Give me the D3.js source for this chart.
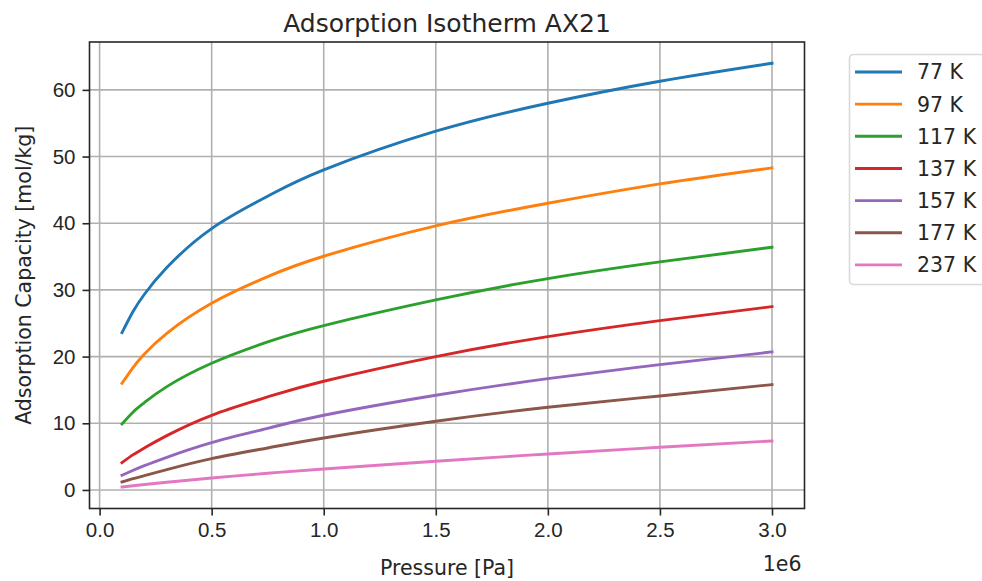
<!DOCTYPE html>
<html>
<head>
<meta charset="utf-8">
<script src="https://cdnjs.cloudflare.com/ajax/libs/d3/7.8.4/d3.min.js"></script>
<style>
  body { margin: 0; background: #fff; }
  svg { display: block; font-family: "DejaVu Sans", sans-serif; }
  .tick text { fill: #262626; }
</style>
</head>
<body>
<div id="chart"></div>
<script>
// pressure points (Pa)
const pressure = [0.1e6, 0.15e6, 0.2e6, 0.3e6, 0.5e6, 0.75e6, 1.0e6, 1.5e6, 2.0e6, 2.5e6, 3.0e6];

// adsorption capacity (mol/kg) per temperature
const q77  = [23.6, 26.8, 29.35, 33.35, 39.2, 44.05, 48.0, 53.8, 58.0, 61.3, 64.0];
const q97  = [16.0, 18.4, 20.4, 23.5, 28.0, 32.0, 35.05, 39.6, 43.0, 45.9, 48.3];
const q117 = [9.9, 11.7, 13.1, 15.5, 19.0, 22.2, 24.65, 28.5, 31.7, 34.2, 36.4];
const q137 = [4.1, 5.3, 6.3, 8.15, 11.2, 13.95, 16.3, 20.0, 23.0, 25.4, 27.5];
const q157 = [2.2, 2.95, 3.65, 4.9, 7.1, 9.25, 11.2, 14.2, 16.7, 18.8, 20.7];
const q177 = [1.2, 1.7, 2.15, 3.05, 4.7, 6.3, 7.8, 10.3, 12.4, 14.1, 15.8];
const q237 = [0.45, 0.63, 0.82, 1.16, 1.8, 2.5, 3.15, 4.3, 5.4, 6.4, 7.35];

const labels = ["77 K", "97 K", "117 K", "137 K", "157 K", "177 K", "237 K"];
const seriesValues = [q77, q97, q117, q137, q157, q177, q237];
const colors = ["#1f77b4", "#ff7f0e", "#2ca02c", "#d62728", "#9467bd", "#8c564b", "#e377c2"];

const xTicks = [0, 0.5e6, 1.0e6, 1.5e6, 2.0e6, 2.5e6, 3.0e6];
const yTicks = [0, 10, 20, 30, 40, 50, 60];

const W = 982, H = 581;
const plot = {left: 89.5, right: 804.5, top: 42, bottom: 508.5};

const svg = d3.select("#chart").append("svg")
  .attr("width", W)
  .attr("height", H);

const x = d3.scaleLinear().domain([-0.045e6, 3.145e6]).range([plot.left, plot.right]);
const y = d3.scaleLinear().domain([-2.78, 67.18]).range([plot.bottom, plot.top]);

// grid
svg.append("g").selectAll("line").data(xTicks).join("line")
  .attr("x1", d => x(d)).attr("x2", d => x(d))
  .attr("y1", plot.top).attr("y2", plot.bottom)
  .attr("stroke", "#b0b0b0").attr("stroke-width", 1.6);
svg.append("g").selectAll("line").data(yTicks).join("line")
  .attr("x1", plot.left).attr("x2", plot.right)
  .attr("y1", d => y(d)).attr("y2", d => y(d))
  .attr("stroke", "#b0b0b0").attr("stroke-width", 1.6);

// curves
const line = d3.line()
  .x((d, i) => x(pressure[i]))
  .y(d => y(d))
  .curve(d3.curveNatural);

svg.append("g").selectAll("path").data(seriesValues).join("path")
  .attr("d", d => line(d))
  .attr("fill", "none")
  .attr("stroke", (d, i) => colors[i])
  .attr("stroke-width", 2.9)
  .attr("stroke-linecap", "square");

// axes
const xAxis = svg.append("g")
  .attr("transform", `translate(0,${plot.bottom})`)
  .call(d3.axisBottom(x).tickValues(xTicks).tickFormat(d => (d / 1e6).toFixed(1))
    .tickSize(7).tickPadding(7));
const yAxis = svg.append("g")
  .attr("transform", `translate(${plot.left},0)`)
  .call(d3.axisLeft(y).tickValues(yTicks).tickSize(7).tickPadding(7));

[xAxis, yAxis].forEach(a => {
  a.select(".domain").remove();
  a.selectAll(".tick line").attr("stroke", "#262626").attr("stroke-width", 1.6);
  a.selectAll(".tick text").style("font-size", "20.5px");
});

// frame
svg.append("rect")
  .attr("x", plot.left).attr("y", plot.top)
  .attr("width", plot.right - plot.left).attr("height", plot.bottom - plot.top)
  .attr("fill", "none").attr("stroke", "#262626").attr("stroke-width", 1.6);

// texts
svg.append("text")
  .attr("x", (plot.left + plot.right) / 2).attr("y", 32)
  .attr("text-anchor", "middle")
  .style("font-size", "25px").attr("fill", "#262626")
  .text("Adsorption Isotherm AX21");

svg.append("text")
  .attr("x", (plot.left + plot.right) / 2).attr("y", 575)
  .attr("text-anchor", "middle")
  .style("font-size", "20.5px").attr("fill", "#262626")
  .text("Pressure [Pa]");

svg.append("text")
  .attr("transform", `translate(31,${(plot.top + plot.bottom) / 2}) rotate(-90)`)
  .attr("text-anchor", "middle")
  .style("font-size", "20.5px").attr("fill", "#262626")
  .text("Adsorption Capacity [mol/kg]");

svg.append("text")
  .attr("x", plot.right - 3).attr("y", 571)
  .attr("text-anchor", "end")
  .style("font-size", "20.5px").attr("fill", "#262626")
  .text("1e6");

// legend
const legend = svg.append("g");
legend.append("rect")
  .attr("x", 849.5).attr("y", 54.5)
  .attr("width", 150).attr("height", 230)
  .attr("rx", 4)
  .attr("fill", "#fff").attr("fill-opacity", 0.8)
  .attr("stroke", "#d9d9d9").attr("stroke-width", 1.6);

const rows = legend.selectAll("g.row").data(labels).join("g")
  .attr("class", "row")
  .attr("transform", (d, i) => `translate(0,${72 + i * 32.15})`);
rows.append("line")
  .attr("x1", 855).attr("x2", 902)
  .attr("stroke", (d, i) => colors[i])
  .attr("stroke-width", 2.9);
rows.append("text")
  .attr("x", 917).attr("dy", "0.36em")
  .style("font-size", "20.5px").attr("fill", "#262626")
  .text(d => d);
</script>
</body>
</html>
